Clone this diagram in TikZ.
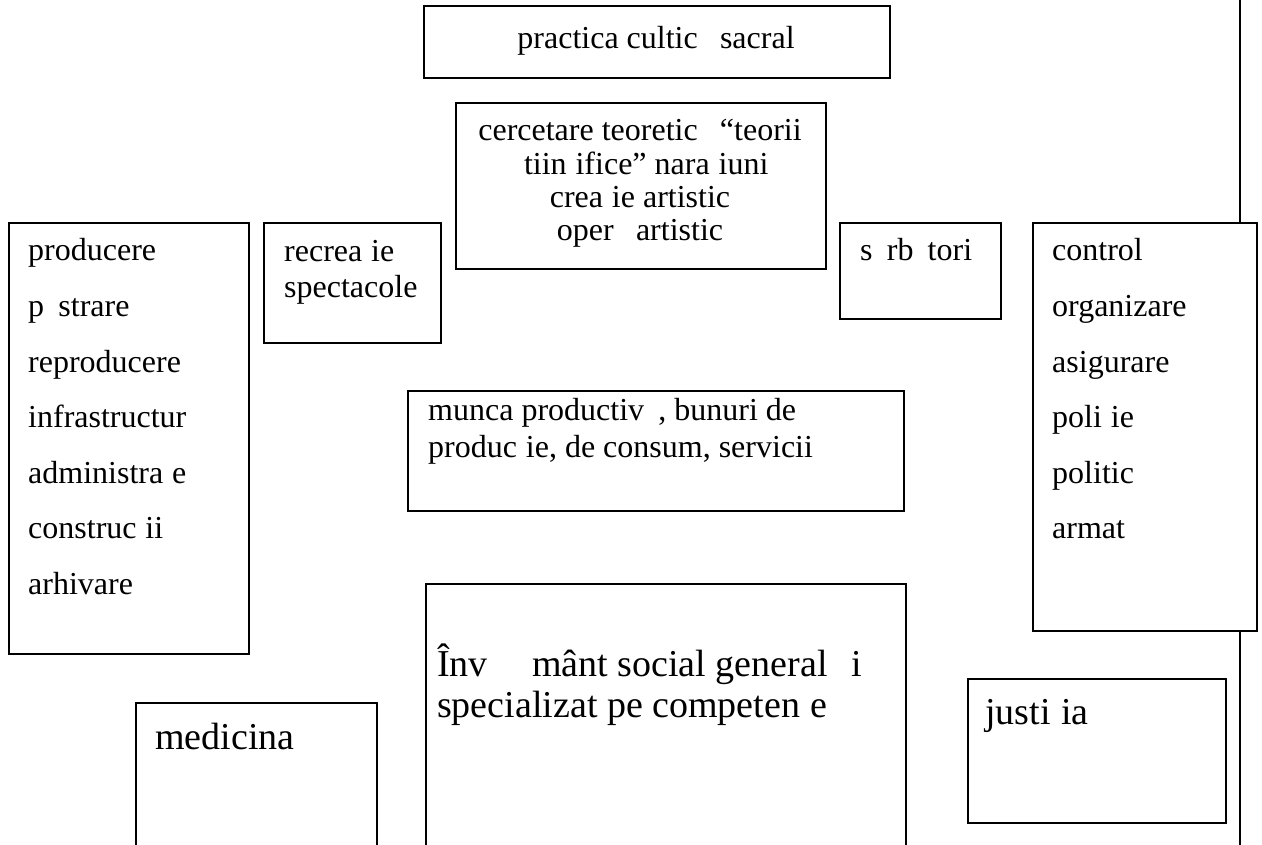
\documentclass[tikz,border=0pt]{standalone}
\usepackage{fontspec}
\setmainfont{Liberation Serif}
% blank slots where letters with diacritics are missing from the font
\newcommand\gapa{\hspace{0.444em}}
\newcommand\gaps{\hspace{0.389em}}
\newcommand\gapt{\hspace{0.278em}}
\begin{document}
\begin{tikzpicture}[x=1pt,y=-1pt,
  box/.style={draw,line width=2pt,inner sep=0pt,anchor=north west},
  rail/.style={draw,line width=2pt},
  lbl/.style={anchor=base west,inner sep=0pt,font=\fontsize{32}{36}\selectfont},
  clbl/.style={anchor=base,inner sep=0pt,font=\fontsize{32}{36}\selectfont},
  big/.style={anchor=base west,inner sep=0pt,font=\fontsize{38}{44}\selectfont},
]
\useasboundingbox (0,0) rectangle (1262,845);

% boxes
\node[box,minimum width=466pt,minimum height=72pt]  (cult)  at (423,5)   {};
\node[box,minimum width=370pt,minimum height=166pt] (cerc)  at (455,102) {};
\node[box,minimum width=240pt,minimum height=431pt] (prod)  at (8,222)   {};
\node[box,minimum width=177pt,minimum height=120pt] (recr)  at (263,222) {};
\node[box,minimum width=161pt,minimum height=96pt]  (sarb)  at (839,222) {};
\node[box,minimum width=224pt,minimum height=408pt] (ctrl)  at (1032,222) {};
\node[box,minimum width=496pt,minimum height=120pt] (munca) at (407,390) {};
\node[box,minimum width=241pt,minimum height=160pt] (med)   at (135,702) {};
\node[box,minimum width=480pt,minimum height=280pt] (inv)   at (425,583) {};
\node[box,minimum width=258pt,minimum height=144pt] (just)  at (967,678) {};

% vertical rail through the control box
\coordinate (railtop) at (1240,-3);
\coordinate (railbot) at (1240,850);
\draw[rail] (railtop) -- (railtop |- ctrl.north);
\draw[rail] (railbot |- ctrl.south) -- (railbot);

% texts
\node[clbl] (cult-t) at (656,49) {practica cultic\gapa{} sacral\gapa};

\node[clbl] (cerc-1) at (640,141) {cercetare teoretic\gapa{} “teorii};
\node[clbl] (cerc-2) at (640,175) {\gaps{}tiin\gapt{}ifice” nara\gapt{}iuni};
\node[clbl] (cerc-3) at (640,208) {crea\gapt{}ie artistic\gapa};
\node[clbl] (cerc-4) at (640,241) {oper\gapa{} artistic\gapa};

\foreach \t [count=\i] in {producere,p\gapa{}strare,reproducere,
    infrastructur\gapa,administra\gapt{}e,construc\gapt{}ii,arhivare}
  \node[lbl] (prod-\i) at (28,{261+55.5*(\i-1)}) {\t};

\node[lbl] (recr-1) at (284,262) {recrea\gapt{}ie};
\node[lbl] (recr-2) at (284,298) {spectacole};

\node[lbl] (sarb-t) at (860,261) {s\gapa{}rb\gapa{}tori};

\foreach \t [count=\i] in {control,organizare,asigurare,
    poli\gapt{}ie,politic\gapa,armat\gapa}
  \node[lbl] (ctrl-\i) at (1052,{261+55.5*(\i-1)}) {\t};

\node[lbl] (munca-1) at (428,420) {munca productiv\gapa, bunuri de};
\node[lbl] (munca-2) at (428,457) {produc\gapt{}ie, de consum, servicii};

\node[big] (med-t) at (155,749) {medicina};

\node[big] (inv-1) at (437,676) {Înv\gapa\gapt\gapa{}mânt social general \gaps{}i};
\node[big] (inv-2) at (437,717) {specializat pe competen\gapt{}e};

\node[big] (just-t) at (985,724) {justi\gapt{}ia};
\end{tikzpicture}
\end{document}
